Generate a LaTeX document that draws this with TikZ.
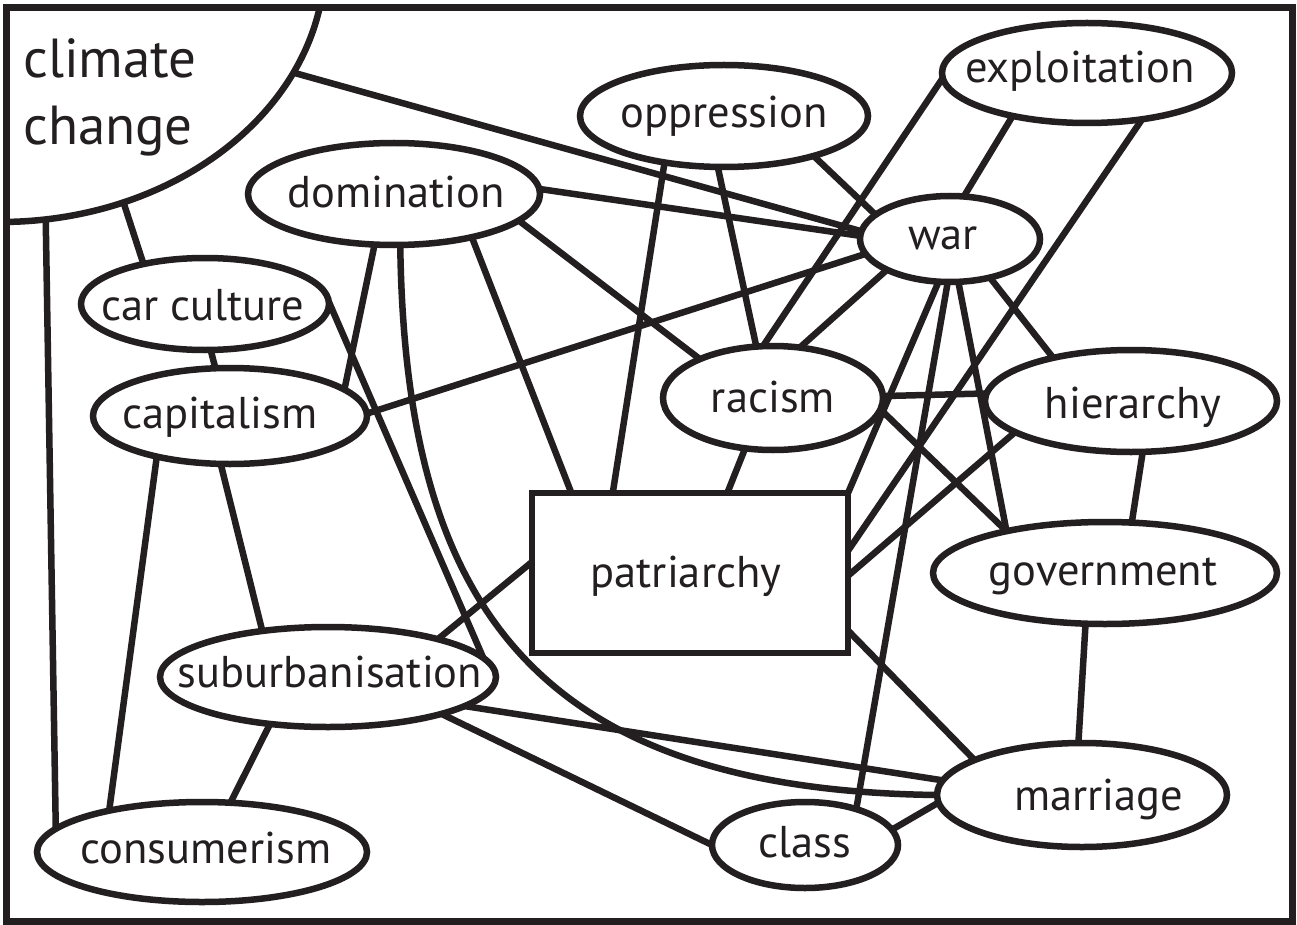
\documentclass[tikz,border=0pt]{standalone}
\usepackage{fontspec}
\setmainfont{PT Sans}
\usetikzlibrary{shapes.geometric,backgrounds}
\definecolor{ink}{HTML}{231F20}
\begin{document}
\begin{tikzpicture}[x=1pt,y=-1pt,
  concept/.style={ellipse,draw=ink,line width=6.5pt,fill=white,inner sep=0pt,outer sep=0pt},
  boxnode/.style={rectangle,draw=ink,line width=6.5pt,fill=white,inner sep=0pt,outer sep=0pt},
  word/.style={anchor=base,text=ink,inner sep=0pt,font=\fontsize{44.5}{53}\selectfont},
  bigword/.style={anchor=base west,text=ink,inner sep=0pt,font=\fontsize{55}{66}\selectfont},
  link/.style={draw=ink,line width=6.5pt}]
\useasboundingbox (0,0) rectangle (1297,925);

% climate change (clipped by frame)
\begin{scope}
  \clip (9.5,11) rectangle (1288.5,918);
  \node[concept,minimum width=650pt,minimum height=524pt] (cc) at (0,-40) {};
\end{scope}

% concept nodes
\node[concept,minimum width=292pt,minimum height=102pt] (dom) at (394,194) {};
\node[concept,minimum width=288pt,minimum height=102pt] (opp) at (724,116) {};
\node[concept,minimum width=290pt,minimum height=100pt] (exp) at (1087,73) {};
\node[concept,minimum width=180pt,minimum height=86pt] (war) at (950,239) {};
\node[concept,minimum width=248pt,minimum height=92pt] (car) at (205,304) {};
\node[concept,minimum width=274pt,minimum height=96pt] (cap) at (230,416) {};
\node[concept,minimum width=220pt,minimum height=104pt] (rac) at (773,398) {};
\node[boxnode,minimum width=316pt,minimum height=160pt] (pat) at (690,573) {};
\node[concept,minimum width=292pt,minimum height=102pt] (hie) at (1131,401) {};
\node[concept,minimum width=344pt,minimum height=102pt] (gov) at (1105,573) {};
\node[concept,minimum width=290pt,minimum height=104pt] (mar) at (1082,795) {};
\node[concept,minimum width=186pt,minimum height=86pt] (cls) at (805,845) {};
\node[concept,minimum width=336pt,minimum height=100pt] (sub) at (328,677) {};
\node[concept,minimum width=330pt,minimum height=100pt] (con) at (202,852) {};

% texts
\node[bigword] (t-cc1) at (23,78) {climate};
\node[bigword] (t-cc2) at (23,145) {change};
\node[word] (t-dom) at (396,208) {domination};
\node[word] (t-opp) at (724,128) {oppression};
\node[word] (t-exp) at (1080,83) {exploitation};
\node[word] (t-war) at (943,250) {war};
\node[word] (t-car) at (203,320) {car culture};
\node[word] (t-cap) at (220,428) {capitalism};
\node[word] (t-rac) at (773,412) {racism};
\node[word] (t-pat) at (686,587) {patriarchy};
\node[word] (t-hie) at (1133,418) {hierarchy};
\node[word] (t-gov) at (1103,585) {government};
\node[word] (t-mar) at (1099,810) {marriage};
\node[word] (t-cls) at (805,857) {class};
\node[word] (t-sub) at (330,687) {suburbanisation};
\node[word] (t-con) at (206,863) {consumerism};

% connectors
\begin{pgfonlayer}{background}
\fill[white] (0,0) rectangle (1297,925);
\draw[link] (cc.-63.9) -- (car.147.9);
\draw[link] (cc.-80.9) -- (con.171.9);
\draw[link] (cc.-21.4) -- (war.175.6);
\draw[link] (dom.2.4) -- (war.178.8);
\draw[link] (dom.-12.8) -- (rac.152.9);
\draw[link] (dom.-29.6) -- (pat.146.3);
\draw[link] (dom.-111.6) -- (cap.13.5);
\draw[link] (dom.-83.5) .. controls (405,600) and (530,790) .. (mar.180);
\draw[link] (opp.-142.7) -- (pat.134.3);
\draw[link] (opp.-97.4) -- (rac.108.8);
\draw[link] (opp.-24.6) -- (war.162);
\draw[link] (exp.-178) -- (rac.101.7);
\draw[link] (exp.-150.2) -- (war.72.8);
\draw[link] (exp.-40.8) -- (pat.8.3);
\draw[link] (war.-170.1) -- (cap.1.7);
\draw[link] (war.-154.8) -- (rac.62.1);
\draw[link] (war.-105.6) -- (pat.north east);
\draw[link] (war.-93.9) -- (cls.35.1);
\draw[link] (war.-79.5) -- (gov.157.8);
\draw[link] (war.-44.3) -- (hie.151.3);
\draw[link] (rac.1.6) -- (hie.177.6);
\draw[link] (rac.-6.1) -- (gov.157.8);
\draw[link] (rac.-119.1) -- (pat.65.2);
\draw[link] (hie.-165.9) -- (pat.-1.5);
\draw[link] (hie.-77.8) -- (gov.62.1);
\draw[link] (gov.-111) -- (mar.94.4);
\draw[link] (pat.-20.5) -- (mar.162.7);
\draw[link] (cls.10.4) -- (mar.-177.3);
\draw[link] (sub.-18.3) -- (cls.180);
\draw[link] (sub.-12.3) -- (mar.174.9);
\draw[link] (sub.19.6) -- (pat.176);
\draw[link] (sub.-141.6) -- (con.60);
\draw[link] (car.1.9) -- (sub.7.9);
\draw[link] (car.-83.8) -- (cap.107.4);
\draw[link] (cap.-101.5) -- (sub.145.6);
\draw[link] (cap.-151.8) -- (con.156.3);
\end{pgfonlayer}

% frame
\draw[ink,line width=7pt] (6,7.5) rectangle (1292,921.5);
\end{tikzpicture}
\end{document}
